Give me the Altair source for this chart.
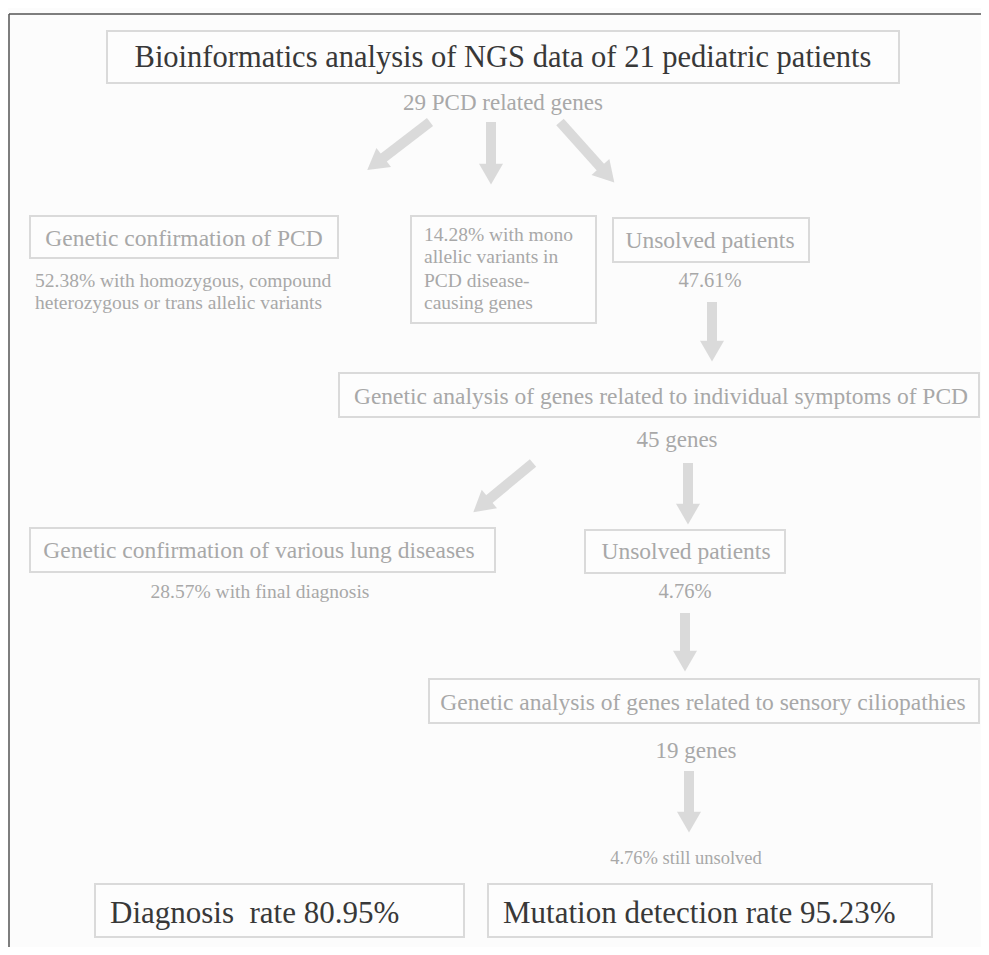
import math
import altair as alt
import pandas as pd

# ---- boxes ----
box_names = ["title", "conf_pcd", "mono", "unsolved1", "analysis1", "lung",
             "unsolved2", "analysis2", "diag", "mut"]
box_x1 = [107, 30, 411, 613, 339, 30, 585, 429, 95, 488]
box_x2 = [899, 338, 596, 809, 979, 495, 785, 979, 464, 932]
box_y1 = [31, 216, 216, 218, 373, 528, 530, 679, 884, 884]
box_y2 = [83, 258, 323, 262, 417, 572, 573, 723, 937, 937]

# ---- centred labels ----
c_text = [
    "Bioinformatics analysis of NGS data of 21 pediatric patients",
    "29 PCD related genes",
    "Genetic confirmation of PCD",
    "Unsolved patients",
    "47.61%",
    "Genetic analysis of genes related to individual symptoms of PCD",
    "45 genes",
    "Genetic confirmation of various lung diseases",
    "Unsolved patients",
    "28.57% with final diagnosis",
    "4.76%",
    "Genetic analysis of genes related to sensory ciliopathies",
    "19 genes",
    "4.76% still unsolved",
]
c_x = [503, 503, 184, 710, 710, 661, 677, 259, 686, 260, 685, 703, 696, 686]
c_y = [67, 110, 246, 248, 287, 404, 447, 558, 559, 598, 598, 710, 758, 864]
c_size = [30.5, 23, 23.5, 23.5, 20.5, 23.5, 23, 23.5, 23.5, 19.5, 20.5, 23.5, 23, 18.5]
c_col = ["#383838"] + ["#a8a8a8"] * 13

# ---- left aligned labels ----
l_text = [
    "52.38% with homozygous, compound",
    "heterozygous or trans allelic variants",
    "14.28% with mono",
    "allelic variants in",
    "PCD disease-",
    "causing genes",
    "Diagnosis\u00a0 rate 80.95%",
    "Mutation detection rate 95.23%",
]
l_x = [35, 35, 424, 424, 424, 424, 110, 503]
l_y = [287, 309, 241, 263, 287, 309, 923, 923]
l_size = [19.5, 19.5, 19.5, 19.5, 19.5, 19.5, 31, 31]
l_col = ["#a8a8a8"] * 6 + ["#383838"] * 2

# ---- arrows (start -> tip) ----
ar_x0 = [430, 491, 560, 712, 533, 688, 685, 689]
ar_y0 = [122, 122, 122, 302, 463, 463, 613, 771]
ar_x1 = [370, 491, 612, 712, 476, 688, 685, 689]
ar_y1 = [168, 181, 180, 358, 510, 521, 668, 829]

HEAD_W = 24
HEAD_H = 0.866 * HEAD_W

shafts, heads = [], []
for x0, y0, x1, y1 in zip(ar_x0, ar_y0, ar_x1, ar_y1):
    dx, dy = x1 - x0, y1 - y0
    L = math.hypot(dx, dy)
    ux, uy = dx / L, dy / L
    cx, cy = x1 - ux * HEAD_H / 2, y1 - uy * HEAD_H / 2
    sx, sy = x1 - ux * HEAD_H * 0.6, y1 - uy * HEAD_H * 0.6
    ang = math.degrees(math.atan2(ux, -uy)) % 360
    shafts.append({"x": x0, "y": y0, "x2": sx, "y2": sy})
    heads.append({"x": cx, "y": cy, "ang": ang})

boxes = pd.DataFrame({"name": box_names, "x": box_x1, "x2": box_x2,
                      "y": box_y1, "y2": box_y2})
ctext = pd.DataFrame({"t": c_text, "x": c_x, "y": c_y, "s": c_size, "c": c_col})
ltext = pd.DataFrame({"t": l_text, "x": l_x, "y": l_y, "s": l_size, "c": l_col})
shaft_df = pd.DataFrame(shafts)
head_df = pd.DataFrame(heads)
frame_df = pd.DataFrame({"x": [9, 9], "y": [14, 14], "x2": [9, 981], "y2": [947, 14]})

X = alt.Scale(domain=[8, 981], nice=False, zero=False)
Y = alt.Scale(domain=[8, 947], nice=False, zero=False, reverse=True)
FONT = "Times New Roman, Liberation Serif, serif"

frame = alt.Chart(frame_df).mark_rule(color="#555555", strokeWidth=1.5).encode(
    x=alt.X("x:Q", scale=X, axis=None), y=alt.Y("y:Q", scale=Y, axis=None),
    x2="x2:Q", y2="y2:Q")

box_layer = alt.Chart(boxes).mark_rect(
    fill="#fdfdfd", stroke="#dadada", strokeWidth=2).encode(
    x=alt.X("x:Q", scale=X, axis=None), x2="x2:Q",
    y=alt.Y("y:Q", scale=Y, axis=None), y2="y2:Q")

shaft_layer = alt.Chart(shaft_df).mark_rule(
    color="#dadada", strokeWidth=10, strokeCap="butt").encode(
    x=alt.X("x:Q", scale=X, axis=None), y=alt.Y("y:Q", scale=Y, axis=None),
    x2="x2:Q", y2="y2:Q")

head_layer = alt.Chart(head_df).mark_point(
    shape="triangle", filled=True, opacity=1, color="#dadada",
    size=HEAD_W * HEAD_W).encode(
    x=alt.X("x:Q", scale=X, axis=None), y=alt.Y("y:Q", scale=Y, axis=None),
    angle=alt.Angle("ang:Q", scale=None))

ctext_layer = alt.Chart(ctext).mark_text(
    font=FONT, align="center", baseline="alphabetic").encode(
    x=alt.X("x:Q", scale=X, axis=None), y=alt.Y("y:Q", scale=Y, axis=None),
    text="t:N", size=alt.Size("s:Q", scale=None), color=alt.Color("c:N", scale=None))

ltext_layer = alt.Chart(ltext).mark_text(
    font=FONT, align="left", baseline="alphabetic").encode(
    x=alt.X("x:Q", scale=X, axis=None), y=alt.Y("y:Q", scale=Y, axis=None),
    text="t:N", size=alt.Size("s:Q", scale=None), color=alt.Color("c:N", scale=None))

chart = alt.layer(frame, box_layer, shaft_layer, head_layer, ctext_layer, ltext_layer).properties(
    width=973, height=939, padding=0, background="#fcfcfc",
    autosize=alt.AutoSizeParams(type="none")
).configure_view(stroke=None)

chart.save("out.html", embed_options={"renderer": "svg", "actions": False})
